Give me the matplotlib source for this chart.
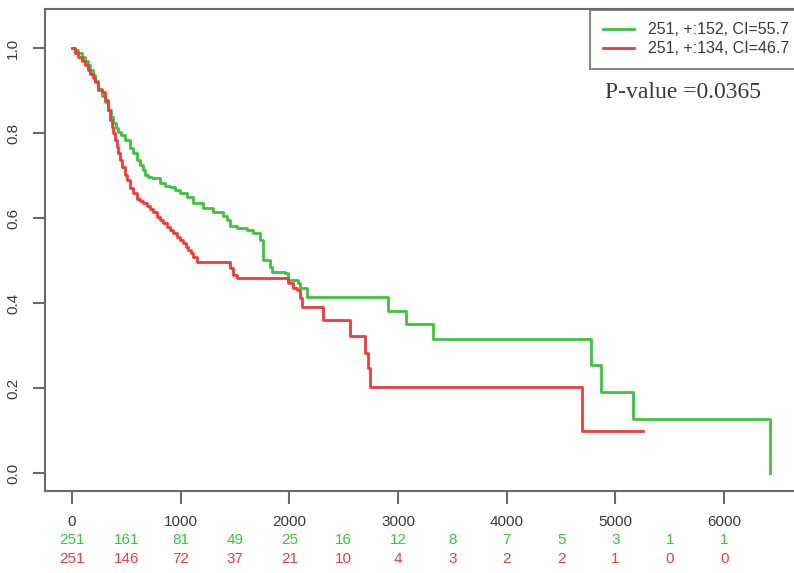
import numpy as np
import matplotlib
matplotlib.use("Agg")
import matplotlib.pyplot as plt
from matplotlib.lines import Line2D
from matplotlib.transforms import blended_transform_factory

plt.rcParams['font.family'] = ['Liberation Sans', 'DejaVu Sans']

# Kaplan-Meier steps: (time, survival after the drop)
green_t = [0, 28, 55, 92, 120, 147, 166, 193, 212, 239, 276, 304, 331, 359,
           377, 405, 423, 451, 488, 534, 561, 598, 626, 653, 672, 699, 736,
           810, 856, 902, 948, 994, 1058, 1113, 1205, 1297, 1389, 1426, 1454,
           1518, 1610, 1665, 1730, 1757, 1822, 1840, 1960, 1987, 2079, 2098,
           2162, 2907, 3073, 3321, 4775, 4867, 5161, 6421]
green_s = [1.0, 0.995, 0.988, 0.979, 0.969, 0.96, 0.948, 0.936, 0.922, 0.904,
           0.888, 0.874, 0.854, 0.838, 0.824, 0.812, 0.802, 0.795, 0.784, 0.765,
           0.753, 0.736, 0.725, 0.713, 0.701, 0.696, 0.694, 0.682, 0.675, 0.673,
           0.666, 0.659, 0.649, 0.635, 0.624, 0.614, 0.605, 0.595, 0.582, 0.576,
           0.572, 0.565, 0.548, 0.501, 0.485, 0.473, 0.47, 0.454, 0.447, 0.435,
           0.414, 0.381, 0.351, 0.315, 0.254, 0.191, 0.127, 0.0]

red_t = [0, 28, 55, 92, 120, 147, 166, 193, 212, 239, 276, 304, 331, 350, 368,
         377, 396, 414, 423, 442, 460, 488, 506, 534, 561, 598, 626, 653, 690,
         718, 745, 782, 810, 837, 874, 902, 929, 966, 994, 1021, 1049, 1067,
         1095, 1113, 1150, 1454, 1481, 1518, 1987, 2033, 2070, 2098, 2116,
         2309, 2557, 2695, 2723, 2741, 4692, 5253]
red_s = [1.0, 0.988, 0.979, 0.969, 0.96, 0.948, 0.939, 0.929, 0.92, 0.901,
         0.896, 0.878, 0.854, 0.831, 0.814, 0.8, 0.784, 0.767, 0.753, 0.736,
         0.72, 0.701, 0.689, 0.671, 0.659, 0.645, 0.64, 0.635, 0.628, 0.621,
         0.614, 0.602, 0.595, 0.588, 0.579, 0.572, 0.565, 0.555, 0.548, 0.541,
         0.532, 0.525, 0.518, 0.508, 0.496, 0.483, 0.466, 0.459, 0.447, 0.435,
         0.431, 0.412, 0.391, 0.36, 0.322, 0.282, 0.247, 0.202, 0.099, 0.099]

# numbers at risk
risk_times = [0, 500, 1000, 1500, 2000, 2500, 3000, 3500, 4000, 4500, 5000, 5500, 6000]
risk_green = [251, 161, 81, 49, 25, 16, 12, 8, 7, 5, 3, 1, 1]
risk_red = [251, 146, 72, 37, 21, 10, 4, 3, 2, 2, 1, 0, 0]

labels = ["251, +:152, CI=55.7", "251, +:134, CI=46.7"]
pvalue = "P-value =0.0365"

GREEN = '#3cc43c'
RED = '#f23a3a'
AXCOL = '#6a6a6a'
TXT = '#3a3a3a'

W, H = 794, 573
fig = plt.figure(figsize=(W / 100, H / 100), dpi=100)
# frame in pixels: left 45, right 798 (off the image), bottom 491, top 9
ax = fig.add_axes([45 / W, 1 - 491 / H, (798 - 45) / W, (491 - 9) / H])

ax.step(green_t, green_s, where='post', color=GREEN, lw=2.0)
ax.step(red_t, red_s, where='post', color=RED, lw=2.0)

ax.set_xlim(-248, 6679)
ax.set_ylim(-0.0424, 1.0918)
ax.set_xticks(range(0, 7000, 1000))
ax.set_yticks([0.0, 0.2, 0.4, 0.6, 0.8, 1.0])
ax.set_yticklabels(["0.0", "0.2", "0.4", "0.6", "0.8", "1.0"],
                   rotation=90, va='center')

for s in ax.spines.values():
    s.set_color(AXCOL)
    s.set_linewidth(1.5)
ax.tick_params(axis='both', colors=AXCOL, labelcolor=TXT, width=1.5,
               length=9, labelsize=11)
ax.tick_params(axis='x', pad=8)
ax.tick_params(axis='y', pad=9)

# numbers at risk under the axis
tr = blended_transform_factory(ax.transData, fig.transFigure)
for t, g, r in zip(risk_times, risk_green, risk_red):
    ax.text(t, 1 - 540 / H, str(g), color=GREEN, fontsize=11,
            ha='center', va='center', transform=tr)
    ax.text(t, 1 - 559 / H, str(r), color=RED, fontsize=11,
            ha='center', va='center', transform=tr)

handles = [Line2D([], [], color=GREEN, lw=2.0),
           Line2D([], [], color=RED, lw=2.0)]
leg = ax.legend(handles, labels, loc='upper left',
                bbox_to_anchor=(590 / W, 1 - 9.5 / H),
                bbox_transform=fig.transFigure, fontsize=11.5,
                frameon=True, fancybox=False, borderpad=0.8,
                handlelength=1.95, handletextpad=0.85, labelspacing=0.24,
                borderaxespad=0)
leg.get_frame().set_edgecolor(AXCOL)
leg.get_frame().set_linewidth(1.5)
for txt in leg.get_texts():
    txt.set_color(TXT)

fig.text(605 / W, 1 - 92 / H, pvalue, family=['Liberation Serif', 'DejaVu Serif'],
         fontsize=17, color=TXT, va='center', ha='left')

fig.savefig("out.png", dpi=100)
